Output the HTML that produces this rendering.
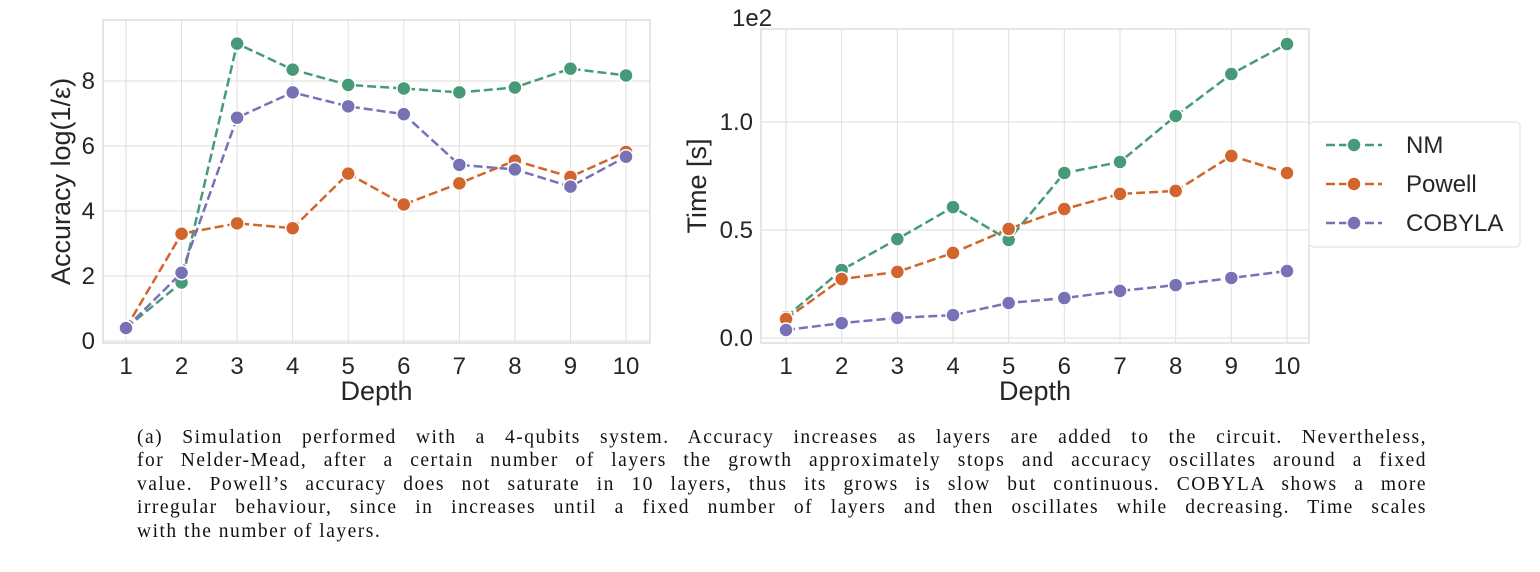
<!DOCTYPE html>
<html><head><meta charset="utf-8"><style>
body{margin:0;background:#fff;}
svg text{font-family:"Liberation Sans",sans-serif;fill:#262626;}
.cap{position:absolute;left:137px;top:426px;width:1290px;font-family:"Liberation Serif",serif;font-size:19.5px;letter-spacing:1.5px;line-height:23.4px;color:#111;}
.cap div{text-align:justify;text-align-last:justify;white-space:nowrap;}
.cap div.last{text-align-last:left;}
</style></head><body>
<svg id="c" width="1540" height="572" style="position:absolute;left:0;top:0"></svg>
<div class="cap">
<div>(a) Simulation performed with a 4-qubits system. Accuracy increases as layers are added to the circuit. Nevertheless,</div>
<div>for Nelder-Mead, after a certain number of layers the growth approximately stops and accuracy oscillates around a fixed</div>
<div>value. Powell’s accuracy does not saturate in 10 layers, thus its grows is slow but continuous. COBYLA shows a more</div>
<div>irregular behaviour, since in increases until a fixed number of layers and then oscillates while decreasing. Time scales</div>
<div class="last">with the number of layers.</div>
</div>
<script>
const depths=[1,2,3,4,5,6,7,8,9,10];
const accNM=[0.4,1.8,9.15,8.35,7.88,7.77,7.65,7.8,8.38,8.17];
const accPowell=[0.4,3.3,3.62,3.47,5.15,4.2,4.85,5.55,5.05,5.82];
const accCOBYLA=[0.4,2.1,6.87,7.65,7.22,6.98,5.42,5.28,4.75,5.67];
const timeNM=[0.097,0.315,0.458,0.606,0.454,0.764,0.815,1.028,1.222,1.361];
const timePowell=[0.088,0.273,0.306,0.394,0.505,0.597,0.667,0.681,0.843,0.764];
const timeCOBYLA=[0.037,0.069,0.093,0.106,0.162,0.185,0.218,0.245,0.278,0.31];
const accTicks=[0,2,4,6,8];
const timeTicks=[0.0,0.5,1.0];
const names=["NM","Powell","COBYLA"];
const colors=["#479a78","#d2652b","#7772b6"];
const NS="http://www.w3.org/2000/svg";
const svg=document.getElementById('c');
function mk(t,a,p){const e=document.createElementNS(NS,t);for(const k in a)e.setAttribute(k,a[k]);(p||svg).appendChild(e);return e;}
function panel(cfg){
  const g=mk('g',{});
  
  
  const {L,R,T,B,x1,x10,yv0,yp0,yv1,yp1}=cfg;
  const X=d=>x1+(d-1)*(x10-x1)/9;
  const Y=v=>yp0+(v-yv0)*(yp1-yp0)/(yv1-yv0);
  mk('rect',{x:L,y:T,width:R-L,height:B-T,fill:'#fff',stroke:'#d5d5d5','stroke-width':1.2},g);
  depths.forEach(d=>{mk('line',{x1:X(d),x2:X(d),y1:T,y2:B,stroke:'#dedede','stroke-width':1},g);
    const t=mk('text',{x:X(d),y:B+31,'text-anchor':'middle','font-size':24},g);t.textContent=d;
    });
  cfg.ticks.forEach(v=>{mk('line',{x1:L,x2:R,y1:Y(v),y2:Y(v),stroke:'#dedede','stroke-width':1},g);
    const t=mk('text',{x:L-8,y:Y(v)+8,'text-anchor':'end','font-size':24},g);t.textContent=cfg.fmt(v);
    });
  const xt=mk('text',{x:(L+R)/2,y:B+57,'text-anchor':'middle','font-size':27},g);xt.textContent='Depth';
  
  const yt=mk('text',{x:0,y:0,'text-anchor':'middle','font-size':27,transform:`translate(${cfg.ytx},${(T+B)/2}) rotate(-90)`},g);
  yt.textContent=cfg.ytitle;
  cfg.series.forEach((s,i)=>{
    const pts=s.map((v,j)=>X(depths[j])+','+Y(v)).join(' ');
    const pl=mk('polyline',{points:pts,fill:'none',stroke:colors[i],'stroke-width':2.5,'stroke-dasharray':'9,4'},g);
    
    s.forEach((v,j)=>{const c=mk('circle',{cx:X(depths[j]),cy:Y(v),r:7,fill:colors[i],stroke:'#fff','stroke-width':1.5},g);
      });
  });
  return g;
}
panel({name:'accuracy-chart',L:103,R:650,T:20,B:343,x1:126,x10:626,yv0:0,yp0:341,yv1:8,yp1:81,ticks:accTicks,fmt:v=>v,ytx:70,ytitle:'Accuracy log(1/ε)',series:[accNM,accPowell,accCOBYLA]});
panel({name:'time-chart',L:761,R:1309,T:29,B:343,x1:786,x10:1287,yv0:0,yp0:338,yv1:1,yp1:122,ticks:timeTicks,fmt:v=>v.toFixed(1),ytx:706,ytitle:'Time [s]',series:[timeNM,timePowell,timeCOBYLA]});
const e2=mk('text',{x:732,y:26,'font-size':24});e2.textContent='1e2';

const lg=mk('g',{});


mk('rect',{x:1309,y:122,width:211,height:125,rx:4,fill:'#fff',stroke:'#dcdcdc'},lg);
names.forEach((n,i)=>{const y=145+i*39;
  mk('line',{x1:1326,x2:1382,y1:y,y2:y,stroke:colors[i],'stroke-width':2.5,'stroke-dasharray':'9,4'},lg);
  mk('circle',{cx:1354,cy:y,r:7,fill:colors[i],stroke:'#fff','stroke-width':1.5},lg);
  const t=mk('text',{x:1406,y:y+8,'font-size':24},lg);t.textContent=n;
  });
</script>
</body></html>
